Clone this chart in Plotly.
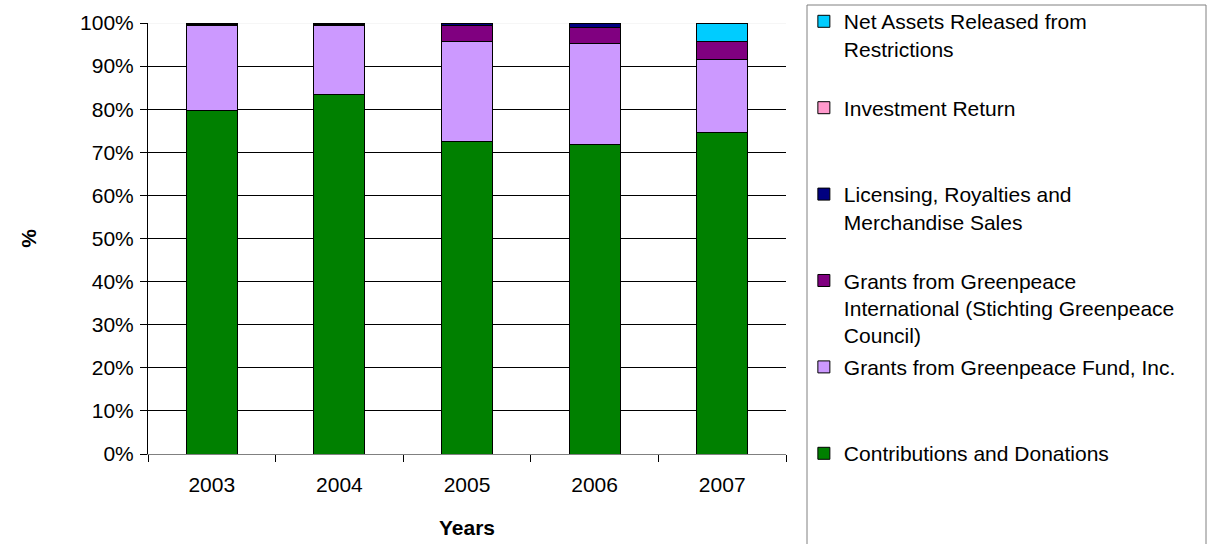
import plotly.graph_objects as go

years = ["2003", "2004", "2005", "2006", "2007"]

contributions = [79.6, 83.3, 72.5, 71.9, 74.6]
fund_grants = [19.9, 16.2, 23.3, 23.4, 17.0]
intl_grants = [0.2, 0.2, 3.7, 3.7, 4.0]
licensing = [0.3, 0.3, 0.4, 1.0, 0.0]
investment = [0.0, 0.0, 0.1, 0.0, 0.0]
net_assets = [0.0, 0.0, 0.0, 0.0, 4.4]

series = [
    ("Contributions and Donations", contributions, "#008000", 1),
    ("Grants from Greenpeace Fund, Inc.", fund_grants, "#CC99FF", 1),
    ("Grants from Greenpeace<br>International (Stichting Greenpeace<br>Council)", intl_grants, "#800080", 3),
    ("Licensing, Royalties and<br>Merchandise Sales", licensing, "#000080", 2),
    ("Investment Return", investment, "#FF99CC", 1),
    ("Net Assets Released from<br>Restrictions", net_assets, "#00CCFF", 2),
]

FONT = "Liberation Sans, Arial, sans-serif"

fig = go.Figure()
n = len(series)
for i, (name, vals, color, nlines) in enumerate(series):
    label = name + "<br> " * (3 - nlines)
    fig.add_trace(go.Bar(
        x=years, y=vals, name=label,
        marker=dict(color=color, line=dict(color="black", width=1)),
        legendgroup="g%d" % i,
        legendrank=n - i,
    ))

fig.update_layout(
    barmode="stack",
    bargap=0.6,
    width=1213, height=544,
    margin=dict(l=148, r=427, t=23, b=90, autoexpand=False),
    plot_bgcolor="white",
    paper_bgcolor="white",
    font=dict(family=FONT, size=21, color="black"),
    showlegend=True,
    legend=dict(
        x=1.028, xanchor="left", y=1.0507, yanchor="top",
        traceorder="grouped",
        tracegroupgap=1.5,
        valign="top",
        maxheight=700,
        font=dict(family=FONT, size=21, color="black"),
        bgcolor="rgba(0,0,0,0)",
        borderwidth=0,
    ),
    xaxis=dict(
        type="category",
        tickson="boundaries",
        ticks="outside", ticklen=7, tickcolor="black",
        showline=True, linecolor="#808080", linewidth=1,
        showgrid=False,
        automargin=False,
        ticklabelstandoff=12,
        title=dict(text="<b>Years</b>", font=dict(family=FONT, size=21), standoff=25),
    ),
    yaxis=dict(
        range=[0, 100],
        dtick=10,
        ticksuffix="%",
        ticks="outside", ticklen=7, tickcolor="black",
        showline=True, linecolor="black", linewidth=1,
        showgrid=True, gridcolor="black", gridwidth=1,
        zeroline=False,
        automargin=False,
        ticklabelstandoff=2,
        title=dict(text="<b>%</b>", font=dict(family=FONT, size=21), standoff=37),
    ),
    shapes=[
        dict(type="line", xref="paper", yref="y", x0=0, x1=1, y0=100, y1=100,
             line=dict(color="#EEEEEE", width=1), layer="below"),
        dict(type="rect", xref="paper", yref="paper",
             x0=(807 - 148) / 638, x1=(1206 - 148) / 638,
             y0=-0.3, y1=1 + 18 / 431,
             line=dict(color="#808080", width=1), layer="above"),
    ],
)

fig.write_html("out.html")
